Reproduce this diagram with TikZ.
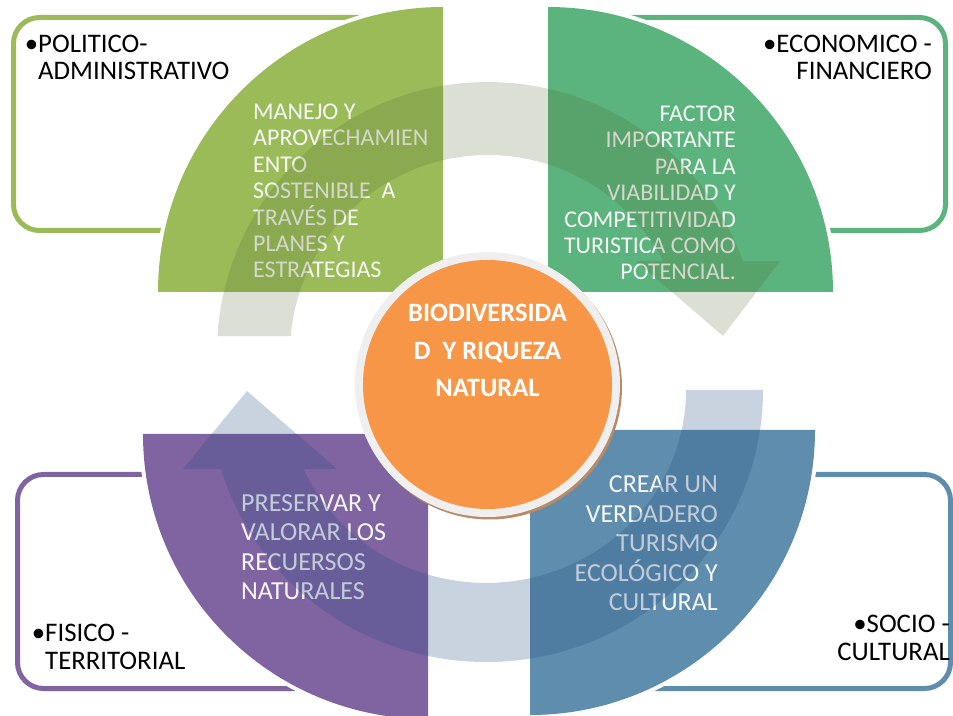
\documentclass[tikz,border=0pt]{standalone}
\usepackage{fontspec}
\setmainfont{Carlito}
\definecolor{cTL}{HTML}{9BBB59}
\definecolor{cTR}{HTML}{5BB37D}
\definecolor{cBL}{HTML}{8064A2}
\definecolor{cBR}{HTML}{5F8DAD}
\definecolor{cOr}{HTML}{F79646}
\definecolor{ringT}{HTML}{4F6228}
\definecolor{ringB}{HTML}{1F497D}
\definecolor{rim}{HTML}{EFEFEF}
\definecolor{shadowc}{HTML}{B98A66}
\definecolor{txtlight}{HTML}{F6F6F6}
\begin{document}
\begin{tikzpicture}[x=1pt,y=1pt,
  rectframe/.style={line width=5pt, rounded corners=26pt},
  halo/.style={fill=white, draw=white, line width=8pt, line join=round},
  pietext/.style={text=txtlight, inner sep=0pt, font=\fontsize{24}{26.4}\selectfont},
  pietextb/.style={text=txtlight, inner sep=0pt, font=\fontsize{26}{29.5}\selectfont},
  dimlabel/.style={text=black, inner sep=0pt, font=\fontsize{26.8}{27.2}\selectfont},
  ringfill/.style={fill opacity=#1}]
\useasboundingbox (0,0) rectangle (953,715);
% frames
\draw[rectframe, draw=cTL] (13.5,484.5) rectangle (440,697.5);
\draw[rectframe, draw=cTR] (550,484.5) rectangle (945.5,697.5);
\draw[rectframe, draw=cBL] (17.5,26.5) rectangle (420,240.5);
\draw[rectframe, draw=cBR] (540,26.5) rectangle (950.5,240.5);
% quarter pies
\path[halo] (443,423) -- (158,423) arc[start angle=180,end angle=90,radius=285] -- cycle;
\fill[cTL] (443,423) -- (158,423) arc[start angle=180,end angle=90,radius=285] -- cycle;
\path[halo] (548,423) -- (548,708) arc[start angle=90,end angle=0,radius=285] -- cycle;
\fill[cTR] (548,423) -- (548,708) arc[start angle=90,end angle=0,radius=285] -- cycle;
\path[halo] (428,281) -- (143,281) arc[start angle=180,end angle=270,radius=285] -- cycle;
\fill[cBL] (428,281) -- (143,281) arc[start angle=180,end angle=270,radius=285] -- cycle;
\path[halo] (530,285) -- (815,285) arc[start angle=0,end angle=-90,radius=285] -- cycle;
\fill[cBR] (530,285) -- (815,285) arc[start angle=0,end angle=-90,radius=285] -- cycle;
% labels in frames (anchor = baseline of last line)
\node[dimlabel, anchor=base west, align=left] (lTL) at (38,635) {\llap{•}POLITICO-\\ADMINISTRATIVO};
\node[dimlabel, anchor=base east, align=right] (lTR) at (932,635) {•ECONOMICO -\\FINANCIERO};
\node[dimlabel, anchor=base west, align=left] (lBL) at (45,46) {\llap{•}FISICO -\\TERRITORIAL};
\node[dimlabel, anchor=base east, align=right] (lBR) at (950,55) {•SOCIO -\\CULTURAL};
% texts in pies
\node[pietext, anchor=base west, align=left] (tTL) at (253,437)
  {MANEJO Y\\APROVECHAMIEN\\ENTO\\SOSTENIBLE\ \ A\\TRAVÉS DE\\PLANES Y\\ESTRATEGIAS};
\node[pietext, anchor=base east, align=right] (tTR) at (736,435)
  {FACTOR\\IMPORTANTE\\PARA LA\\VIABILIDAD Y\\COMPETITIVIDAD\\TURISTICA COMO\\POTENCIAL.};
\node[pietextb, anchor=base west, align=left] (tBL) at (241,115)
  {PRESERVAR Y\\VALORAR LOS\\RECUERSOS\\NATURALES};
\node[pietextb, anchor=base east, align=right] (tBR) at (718,104)
  {CREAR UN\\VERDADERO\\TURISMO\\ECOLÓGICO Y\\CULTURAL};
% circular arrows
\fill[ringT, ringfill=0.2] (217.5,379) arc[start angle=176.4,end angle=19.8,radius=271]
  -- (780,454) -- (723,379) -- (636,454) -- (663.3,454)
  arc[start angle=27.7,end angle=175.1,radius=198] -- cycle;
\fill[ringB, ringfill=0.24] (763,325) arc[start angle=360,end angle=196.9,x radius=277,y radius=272]
  -- (183,246) -- (247,324) -- (337,246) -- (303.6,246)
  arc[start angle=204.2,end angle=360,x radius=200,y radius=193] -- cycle;
% centre
\fill[shadowc] (489.5,328) circle (132.5);
\fill[rim] (487.5,330.5) circle (132.5);
\node[circle, fill=cOr, minimum size=249pt, inner sep=0pt] (core) at (487.5,330.5) {};
\node[text=white, inner sep=0pt, align=center, anchor=base, font=\bfseries\fontsize{26.5}{37.5}\selectfont] (coretext) at (487.5,318)
  {BIODIVERSIDA\\D\ \ Y RIQUEZA\\NATURAL};
\end{tikzpicture}
\end{document}
